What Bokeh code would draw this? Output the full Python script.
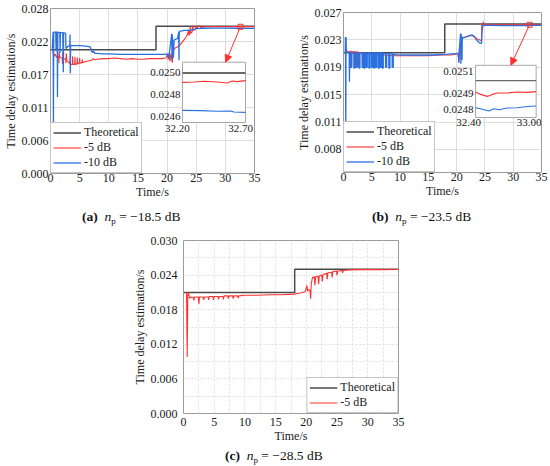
from bokeh.plotting import figure
from bokeh.layouts import column, row
from bokeh.models import (Range1d, FixedTicker, PrintfTickFormatter, Legend, LegendItem,
                          Arrow, NormalHead, Spacer, Div)
from bokeh.embed import file_html
from bokeh.resources import INLINE
from bokeh.core.properties import value

FONT = "Liberation Serif"
RED = "#ff3030"
BLUE = "#2a70e0"
GRAY = "#4a4a4a"
TXT = "#1a1a1a"

# ---------------- data ----------------
x_ticks = [0, 5, 10, 15, 20, 25, 30, 35]
c_x_minor = [2.5, 7.5, 12.5, 17.5, 22.5, 27.5, 32.5]
a_y_ticks = [0.0, 0.0056, 0.0112, 0.0168, 0.0224, 0.028]
b_y_ticks = [0.0076, 0.0114, 0.0152, 0.0190, 0.0228, 0.0266]
c_y_ticks = [0.000, 0.006, 0.012, 0.018, 0.024, 0.030]
c_y_minor = [0.003, 0.009, 0.015, 0.021, 0.027]
series_labels = ["Theoretical", "-5 dB", "-10 dB"]
captions = [("a", "\u221218.5 dB"), ("b", "\u221223.5 dB"), ("c", "\u221228.5 dB")]

theo_a = [(0, 0.0210), (18.1, 0.0210), (18.1, 0.0250), (35, 0.0250)]
m5_a = [(0.4, 0.0208), (0.6, 0.0199), (0.8, 0.0203), (1.0, 0.0197), (1.2, 0.0200), (1.4, 0.0198),
        (1.45, 0.0187), (1.5, 0.0207), (1.6, 0.0197), (2.0, 0.0196), (2.05, 0.0186), (2.1, 0.0206),
        (2.2, 0.0195), (2.6, 0.0194), (2.65, 0.0187), (2.7, 0.0204), (2.8, 0.0192), (3.1, 0.0189),
        (3.35, 0.0186), (3.4, 0.0200), (3.45, 0.0185), (3.75, 0.0185), (3.8, 0.0199), (3.85, 0.0185),
        (4.15, 0.0185), (4.2, 0.0198), (4.25, 0.0185), (4.55, 0.0186), (4.6, 0.0197), (4.65, 0.0186),
        (4.95, 0.0187), (5.0, 0.0196), (5.05, 0.0187), (5.4, 0.0188), (5.45, 0.0194), (5.5, 0.0188),
        (6.0, 0.0190), (6.5, 0.0191), (7.0, 0.0192), (7.3, 0.0195), (7.5, 0.0193), (8.0, 0.0194),
        (9.0, 0.0195), (10.0, 0.0195), (11.0, 0.0196), (12.0, 0.0195), (13.0, 0.0194), (14.0, 0.0195),
        (15.0, 0.0194), (16.0, 0.0194), (17.0, 0.0195), (18.0, 0.0195), (19.0, 0.0195), (19.8, 0.0196),
        (20.1, 0.0203), (20.2, 0.0193), (20.4, 0.0206), (20.5, 0.0190), (20.7, 0.0204), (20.9, 0.0188),
        (21.1, 0.0209), (21.4, 0.0213), (21.8, 0.0215), (22.2, 0.0218), (22.6, 0.0223), (23.0, 0.0228),
        (23.3, 0.0232), (23.5, 0.0236), (23.7, 0.0244), (23.75, 0.0234), (23.9, 0.0238), (24.0, 0.0250),
        (24.05, 0.0238), (24.3, 0.0240), (24.4, 0.0251), (24.5, 0.0243), (24.8, 0.0244), (25.0, 0.0250),
        (25.1, 0.0246), (25.3, 0.0249), (25.6, 0.0251), (25.8, 0.0248), (26.5, 0.0249), (28.0, 0.02492),
        (30.0, 0.02491), (32.0, 0.02492), (35.0, 0.02493)]
m10_a = [(0.3, 0.0212), (0.45, 0.0240), (0.5, 0.0081), (0.55, 0.0240), (0.9, 0.0240), (0.95, 0.0208),
         (1.0, 0.0240), (1.15, 0.0240), (1.2, 0.0130), (1.25, 0.0240), (1.6, 0.0239), (1.65, 0.0205),
         (1.7, 0.0239), (2.1, 0.0239), (2.2, 0.0172), (2.25, 0.0239), (2.6, 0.0238), (2.65, 0.0212),
         (3.0, 0.0216), (3.3, 0.0216), (3.35, 0.0236), (3.4, 0.0170), (3.45, 0.0217), (4.0, 0.0217),
         (5.0, 0.0217), (6.0, 0.0216), (6.8, 0.0215), (7.0, 0.0210), (7.2, 0.0205), (7.4, 0.0208),
         (7.6, 0.0204), (8.0, 0.0204), (9.0, 0.0203), (10.0, 0.0203), (12.0, 0.0202), (14.0, 0.0202),
         (16.0, 0.0202), (18.0, 0.0202), (19.5, 0.0202), (20.0, 0.0203), (20.3, 0.0195), (20.4, 0.0205),
         (20.8, 0.0237), (20.85, 0.0192), (20.9, 0.0236), (21.1, 0.0197), (21.2, 0.0226), (21.5, 0.0228),
         (21.8, 0.0229), (22.0, 0.0240), (22.05, 0.0192), (22.1, 0.0241), (22.5, 0.0242), (23.0, 0.0243),
         (24.0, 0.0243), (24.5, 0.0244), (24.8, 0.0245), (25.0, 0.0246), (26.0, 0.02465), (28.0, 0.02466),
         (30.0, 0.02466), (32.0, 0.02465), (35.0, 0.02464)]

theo_b = [(0, 0.0210), (17.9, 0.0210), (17.9, 0.0250), (35, 0.0250)]
m5_b = [(0.4, 0.0210), (0.6, 0.0213), (0.9, 0.0211), (1.2, 0.0212), (1.4, 0.0212), (1.45, 0.0191),
        (1.5, 0.0211), (2.0, 0.0212), (2.05, 0.0190), (2.1, 0.0211), (2.6, 0.0211), (2.65, 0.0191),
        (2.7, 0.0210), (3.3, 0.0210), (3.35, 0.0192), (3.4, 0.0209), (5.0, 0.0208), (7.0, 0.0207),
        (9.0, 0.0206), (11.0, 0.0206), (13.0, 0.0206), (15.0, 0.0206), (17.0, 0.0207), (19.0, 0.0207),
        (19.8, 0.0208), (20.2, 0.0210), (20.4, 0.0199), (20.5, 0.0212), (20.7, 0.0226), (20.8, 0.0203),
        (20.9, 0.0230), (21.5, 0.0232), (22.0, 0.0233), (22.5, 0.0234), (23.0, 0.0233), (23.5, 0.0230),
        (24.0, 0.0228), (24.4, 0.0227), (24.5, 0.0250), (24.55, 0.0241), (24.7, 0.0253), (24.8, 0.0249),
        (25.5, 0.0249), (27.0, 0.02490), (30.0, 0.02490), (33.0, 0.02491), (35.0, 0.02491)]
m10_b = [(0.3, 0.0210), (0.35, 0.0232), (0.4, 0.0090), (0.45, 0.0232), (0.5, 0.0211), (1.0, 0.0211),
         (1.05, 0.0170), (1.1, 0.0210),
         (1.24, 0.0210), (1.24, 0.0190), (1.44, 0.0190), (1.44, 0.0210),
         (1.83, 0.0210), (1.83, 0.0189), (2.03, 0.0189), (2.03, 0.0210),
         (2.24, 0.0210), (2.24, 0.0190), (2.44, 0.0190), (2.44, 0.0210),
         (2.71, 0.0210), (2.71, 0.0189), (2.91, 0.0189), (2.91, 0.0210),
         (3.30, 0.0210), (3.30, 0.0190), (3.45, 0.0190), (3.45, 0.0210),
         (3.59, 0.0210), (3.59, 0.0189), (3.79, 0.0189), (3.79, 0.0210),
         (4.00, 0.0210), (4.00, 0.0190), (4.20, 0.0190), (4.20, 0.0210),
         (4.48, 0.0210), (4.48, 0.0189), (4.68, 0.0189), (4.68, 0.0210),
         (4.95, 0.0210), (4.95, 0.0190), (5.15, 0.0190), (5.15, 0.0210),
         (5.36, 0.0210), (5.36, 0.0189), (5.50, 0.0189), (5.50, 0.0210),
         (5.66, 0.0210), (5.66, 0.0190), (5.86, 0.0190), (5.86, 0.0210),
         (6.13, 0.0210), (6.13, 0.0189), (6.33, 0.0189), (6.33, 0.0210),
         (6.54, 0.0210), (6.54, 0.0190), (6.68, 0.0190), (6.68, 0.0210),
         (6.83, 0.0210), (6.83, 0.0189), (7.03, 0.0189), (7.03, 0.0209),
         (7.43, 0.0209), (7.43, 0.0190), (7.63, 0.0190), (7.63, 0.0209),
         (8.01, 0.0209), (8.01, 0.0189), (8.21, 0.0189), (8.21, 0.0209),
         (8.60, 0.0209), (8.60, 0.0190), (8.80, 0.0190), (8.80, 0.0208),
         (10.0, 0.0207), (12.0, 0.0207), (14.0, 0.0207), (16.0, 0.0207), (18.0, 0.0208), (19.8, 0.0209),
         (20.3, 0.0209), (20.4, 0.0196), (20.45, 0.0212), (20.7, 0.0237), (20.75, 0.0195), (20.8, 0.0236),
         (20.95, 0.0200), (21.0, 0.0232), (21.3, 0.0231), (21.7, 0.0232), (22.2, 0.0234), (22.7, 0.0235),
         (23.1, 0.0233), (23.5, 0.0228), (24.0, 0.0224), (24.4, 0.0223), (24.5, 0.0248), (25.0, 0.0248),
         (26.0, 0.02480), (28.0, 0.02479), (30.0, 0.02479), (32.0, 0.02478), (33.0, 0.02480), (35.0, 0.02481)]

theo_c = [(0, 0.0210), (18.1, 0.0210), (18.1, 0.0250), (35, 0.0250)]
m5_c = [(0.3, 0.0210), (0.5, 0.0209), (0.6, 0.0098), (0.7, 0.0205), (0.8, 0.0209), (1.0, 0.0200),
        (1.3, 0.0202), (1.6, 0.0201), (1.7, 0.0196), (1.8, 0.0202), (2.4, 0.0202), (2.5, 0.0190),
        (2.6, 0.0202), (3.2, 0.0202), (3.3, 0.0197), (3.4, 0.0202), (4.0, 0.0202), (4.1, 0.0197),
        (4.2, 0.0203), (4.8, 0.0203), (4.9, 0.0197), (5.0, 0.0203), (5.6, 0.0203), (5.7, 0.0198),
        (5.8, 0.0203), (6.4, 0.0203), (6.5, 0.0198), (6.6, 0.0204), (7.2, 0.0204), (7.3, 0.0199),
        (7.4, 0.0204), (8.0, 0.0204), (8.1, 0.0199), (8.2, 0.0204), (8.8, 0.0204), (8.9, 0.0200),
        (9.0, 0.0204), (10.0, 0.0205), (12.0, 0.0205), (14.0, 0.0206), (16.0, 0.0206), (18.0, 0.0207),
        (19.0, 0.0209), (19.8, 0.0211), (20.1, 0.0222), (20.2, 0.0212), (20.4, 0.0215), (20.6, 0.0213),
        (20.7, 0.0199), (20.8, 0.0225), (21.0, 0.0236), (21.3, 0.0237), (21.4, 0.0222), (21.5, 0.0237),
        (21.9, 0.0238), (22.0, 0.0224), (22.1, 0.0239), (22.5, 0.0240), (22.6, 0.0229), (22.7, 0.0241),
        (23.3, 0.0243), (23.4, 0.0233), (23.5, 0.0244), (24.1, 0.0245), (24.2, 0.0236), (24.3, 0.0246),
        (24.9, 0.0247), (25.0, 0.0240), (25.1, 0.0247), (25.8, 0.0248), (25.9, 0.0244), (26.0, 0.0248),
        (27.0, 0.0249), (29.0, 0.02495), (32.0, 0.02495), (35.0, 0.02496)]

# zoomed insets
ia_x_lim = (32.20, 32.70)
ia_y_lim = (0.02454, 0.02510)
ia_theo = [(32.20, 0.02500), (32.70, 0.02500)]
ia_m5 = [(32.20, 0.024913), (32.292, 0.024916), (32.371, 0.024923), (32.476, 0.024916),
         (32.555, 0.024907), (32.595, 0.024926), (32.634, 0.024920), (32.70, 0.024929)]
ia_m10 = [(32.20, 0.024653), (32.345, 0.024650), (32.476, 0.024644), (32.582, 0.024647),
          (32.608, 0.024637), (32.70, 0.024634)]
ia_y_ticks = [0.0250, 0.0248, 0.0246]
ia_y_labels = ["0.0250", "0.0248", "0.0246"]
ia_x_ticks = [32.20, 32.70]
ia_x_labels = ["32.20", "32.70"]

ib_x_lim = (32.40, 33.00)
ib_y_lim = (0.024706, 0.025122)
ib_theo = [(32.40, 0.02500), (33.00, 0.02500)]
ib_m5 = [(32.40, 0.024909), (32.449, 0.024890), (32.516, 0.024874), (32.565, 0.024890),
         (32.614, 0.024901), (32.713, 0.024901), (32.812, 0.024909), (32.911, 0.024906), (33.00, 0.024912)]
ib_m10 = [(32.40, 0.024784), (32.449, 0.024776), (32.532, 0.024757), (32.581, 0.024776),
          (32.631, 0.024768), (32.713, 0.024781), (32.812, 0.024784), (32.911, 0.024794), (33.00, 0.024797)]
ib_y_ticks = [0.025069, 0.02490, 0.024773]
ib_y_labels = ["0.0251", "0.0249", "0.0248"]
ib_x_ticks = [32.40, 33.00]
ib_x_labels = ["32.40", "33.00"]


def xs(pts):
    return [p[0] for p in pts]


def ys(pts):
    return [p[1] for p in pts]


def make_fig(w, h, ylim, yticks, borders, minor_x=None, minor_y=None, dotted=False):
    bl, br, bt, bb = borders
    p = figure(width=w, height=h, x_range=Range1d(0, 35),
               y_range=Range1d(ylim[0], ylim[1]), output_backend="svg", toolbar_location=None,
               min_border_left=bl, min_border_right=br, min_border_top=bt, min_border_bottom=bb)
    p.background_fill_color = "white"
    p.border_fill_color = "white"
    p.outline_line_color = "#9c9c9c"
    p.outline_line_width = 1
    p.xaxis.ticker = FixedTicker(ticks=x_ticks, minor_ticks=minor_x or [])
    p.yaxis.ticker = FixedTicker(ticks=yticks, minor_ticks=minor_y or [])
    p.yaxis.formatter = PrintfTickFormatter(format="%.3f")
    for ax in (p.xaxis, p.yaxis):
        ax.axis_line_color = None
        ax.major_tick_line_color = None
        ax.minor_tick_line_color = None
        ax.major_tick_out = 0
        ax.major_tick_in = 0
        ax.major_label_text_font = FONT
        ax.major_label_text_font_size = "12px"
        ax.major_label_text_color = TXT
        ax.axis_label_text_font = FONT
        ax.axis_label_text_font_size = "12px"
        ax.axis_label_text_font_style = "normal"
        ax.axis_label_text_color = TXT
    p.xaxis.major_label_standoff = 0
    p.yaxis.major_label_standoff = 2
    p.xaxis.axis_label_standoff = 0
    p.yaxis.axis_label_standoff = 1
    p.xaxis.axis_label = "Time/s"
    p.yaxis.axis_label = "Time delay estimation/s"
    for g in (p.xgrid, p.ygrid):
        g.grid_line_color = "#dedede"
        g.grid_line_width = 1
        if dotted:
            g.grid_line_dash = "2 2"
            g.minor_grid_line_color = "#dedede"
            g.minor_grid_line_dash = "2 2"
    return p


def add_legend(p, rends, labels, loc):
    leg = Legend(items=[LegendItem(label=l, renderers=[r]) for l, r in zip(labels, rends)],
                 location=loc, label_text_font=FONT, label_text_font_size="12px",
                 label_text_color=TXT, border_line_color="#8c8c8c", border_line_width=1,
                 background_fill_color="white", background_fill_alpha=1.0,
                 padding=2, spacing=0, margin=0, glyph_width=28, glyph_height=15,
                 label_height=15, label_standoff=3)
    p.add_layout(leg)


def frac_range(lim, f):
    span = (lim[1] - lim[0]) / (f[1] - f[0])
    return Range1d(start=lim[0] - f[0] * span, end=lim[0] + (1 - f[0]) * span)


def add_inset(p, name, xlim, ylim, fx, fy, theo, m5, m10, yt, yl, xt, xl, xlab_off, theo_w):
    xn, yn = name + "x", name + "y"
    p.extra_x_ranges[xn] = frac_range(xlim, fx)
    p.extra_y_ranges[yn] = frac_range(ylim, fy)
    kw = dict(x_range_name=xn, y_range_name=yn)
    p.quad(left=[xlim[0]], right=[xlim[1]], bottom=[ylim[0]], top=[ylim[1]],
           fill_color="white", line_color="#a8a8a8", line_width=1, **kw)
    p.line(xs(theo), ys(theo), line_color="#6a6a6a", line_width=theo_w, **kw)
    p.line(xs(m5), ys(m5), line_color=RED, line_width=1.1, **kw)
    p.line(xs(m10), ys(m10), line_color=BLUE, line_width=1.1, **kw)
    p.text(x=[xlim[0]] * len(yt), y=yt, text=yl, text_align="right", text_baseline="middle",
           x_offset=-2, text_font=value(FONT), text_font_size="11px", text_color=TXT, **kw)
    p.text(x=xt, y=[ylim[0]] * len(xt), text=xl, text_align="center", text_baseline="top",
           x_offset=xlab_off, y_offset=2, text_font=value(FONT), text_font_size="11px",
           text_color=TXT, **kw)


def add_arrow(p, x0, y0, x1, y1):
    p.scatter([x0], [y0], marker="square", size=5, fill_color=None, line_color=RED, line_width=1)
    p.add_layout(Arrow(end=NormalHead(size=7, fill_color=RED, line_color=RED),
                       x_start=x0, y_start=y0, x_end=x1, y_end=y1,
                       line_color=RED, line_width=1))


def caption_div(cap, width, height, pad_left, pad_top):
    letter, rest = cap
    html = ('<div style="padding-left:%spx;padding-top:%spx;white-space:nowrap;'
            'font-family:\'Liberation Serif\',serif;font-size:13.5px;line-height:17px;color:#111;">'
            '<b>(%s)</b>&nbsp;&nbsp;<i>n</i><span style="font-size:9px;position:relative;top:3px;">p</span>'
            ' = %s</div>') % (pad_left, pad_top, letter, rest)
    return Div(text=html, width=width, height=height, margin=0)


# ---------------- (a) ----------------
pa = make_fig(273, 207, (0.0, 0.028), a_y_ticks, (49, 19, 8, 34))
ra0 = pa.line(xs(theo_a), ys(theo_a), line_color=GRAY, line_width=1.5)
ra1 = pa.line(xs(m5_a), ys(m5_a), line_color=RED, line_width=1.1)
ra2 = pa.line(xs(m10_a), ys(m10_a), line_color=BLUE, line_width=1.3)
add_inset(pa, "ia", ia_x_lim, ia_y_lim, (0.647, 0.956), (0.309, 0.6745), ia_theo, ia_m5, ia_m10,
          ia_y_ticks, ia_y_labels, ia_x_ticks, ia_x_labels, -5, 2)
add_arrow(pa, 32.6, 0.0249, 30.05, 0.0189)
add_legend(pa, [ra0, ra1, ra2], series_labels, "bottom_left")
div_a = caption_div(captions[0], 273, 21, 82, 1)

# ---------------- (b) ----------------
pb = make_fig(276, 207, (0.0044, 0.0266), b_y_ticks, (70, 8, 12, 35))
rb0 = pb.line(xs(theo_b), ys(theo_b), line_color=GRAY, line_width=1.5)
rb1 = pb.line(xs(m5_b), ys(m5_b), line_color=RED, line_width=1.1)
rb2 = pb.line(xs(m10_b), ys(m10_b), line_color=BLUE, line_width=1.3)
add_inset(pb, "ib", ib_x_lim, ib_y_lim, (0.667, 0.973), (0.344, 0.670), ib_theo, ib_m5, ib_m10,
          ib_y_ticks, ib_y_labels, ib_x_ticks, ib_x_labels, -7, 1.2)
add_arrow(pb, 32.9, 0.0249, 29.6, 0.0193)
add_legend(pb, [rb0, rb1, rb2], series_labels, "bottom_left")
div_b = caption_div(captions[1], 276, 21, 99, 1)

# ---------------- (c) ----------------
pc = make_fig(290, 219, (0.0, 0.030), c_y_ticks, (55, 20, 12, 34),
              minor_x=c_x_minor, minor_y=c_y_minor, dotted=True)
rc0 = pc.line(xs(theo_c), ys(theo_c), line_color=GRAY, line_width=1.5)
rc1 = pc.line(xs(m5_c), ys(m5_c), line_color=RED, line_width=1.1)
add_legend(pc, [rc0, rc1], series_labels[:2], "bottom_right")
div_c = caption_div(captions[2], 290, 18, 97, 0)

layout = column(row(column(pa, div_a), column(pb, div_b)),
                row(Spacer(width=128, height=237), column(pc, div_c)))

open("out.html", "w").write(file_html(layout, INLINE, "Time delay estimation"))
